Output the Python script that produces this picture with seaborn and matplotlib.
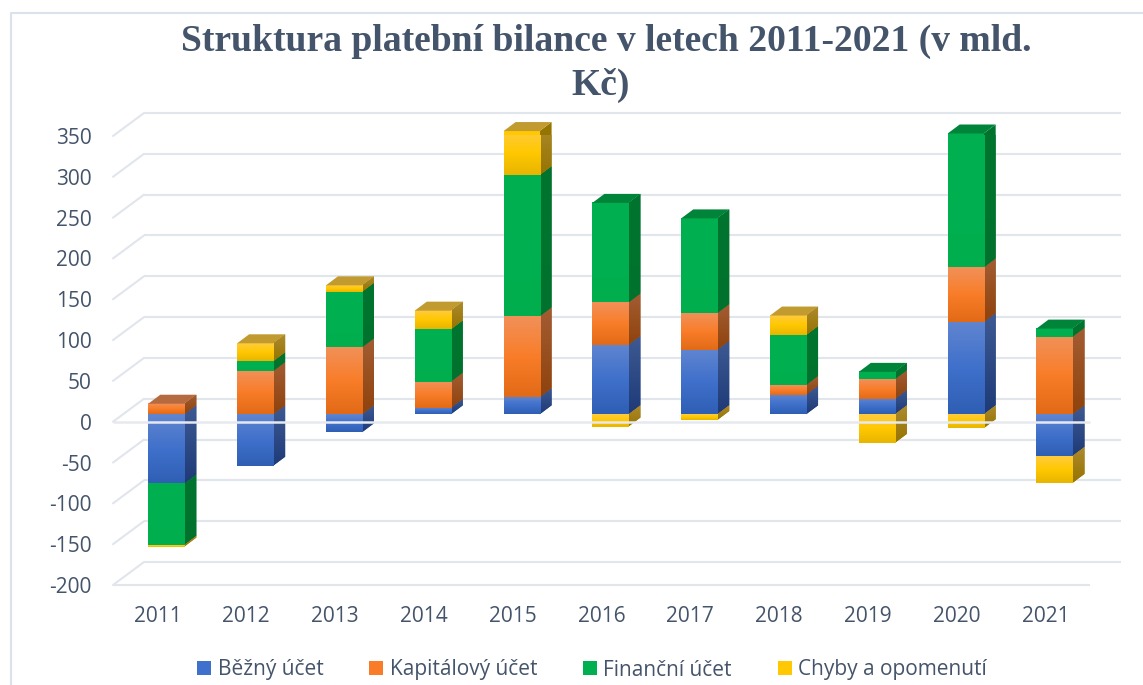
import numpy as np
import matplotlib
matplotlib.use("Agg")
import matplotlib.pyplot as plt
import matplotlib.transforms as mtransforms
from matplotlib.colors import LinearSegmentedColormap
from matplotlib.lines import Line2D
from matplotlib.patches import Patch, Polygon

import seaborn as sns

sns.set_style("white")
plt.rcParams["font.family"] = ["Open Sans", "DejaVu Sans"]
plt.rcParams["axes.unicode_minus"] = False

years = ["2011", "2012", "2013", "2014", "2015", "2016", "2017", "2018", "2019", "2020", "2021"]
bezny = [-85, -63, -22, 8, 21, 85, 79, 24, 19, 113, -51]
kapitalovy = [13, 53, 82, 32, 99, 52, 45, 12, 24, 67, 95]
financni = [-75, 12, 68, 64, 173, 122, 116, 61, 9, 164, 10]
chyby = [-2, 22, 8, 23, 54, -15, -7, 24, -35, -17, -33]

series_names = ["Běžný účet", "Kapitálový účet", "Finanční účet", "Chyby a opomenutí"]
y_ticks = [-200, -150, -100, -50, 0, 50, 100, 150, 200, 250, 300, 350]

text_color = "#44546A"
grid_color = "#E1E5EC"

# front face top/mid/bottom, side face top/bottom, lid
styles = [
    (["#6085D0", "#3F70CB", "#2F5FB4"], ["#3D5A94", "#1E3B78"], "#3A5A9E"),
    (["#F19058", "#F97D29", "#E26A16"], ["#A35D33", "#8F430D"], "#B56A40"),
    (["#00B050", "#00B050", "#00AE4E"], ["#00752F", "#00722D"], "#00843A"),
    (["#FFCB3E", "#FFC800", "#E8B500"], ["#AD8A2E", "#967400"], "#C19A30"),
]

PX_CAT = 88.8
PX_VAL = 0.8164
wall_dx, wall_dy = 31 / PX_CAT, 23 / PX_VAL
bar_dx, bar_dy = 12 / PX_CAT, 9 / PX_VAL
bar_width = 36 / PX_CAT


def gradient(ax, colors, extent, clip, trans, zorder):
    cmap = LinearSegmentedColormap.from_list("face", colors)
    img = ax.imshow(np.linspace(0, 1, 64).reshape(-1, 1), cmap=cmap, extent=extent,
                    aspect="auto", origin="upper", zorder=zorder, transform=trans)
    img.set_clip_path(clip)
    img.set_clip_box(None)


fig = plt.figure(figsize=(11.43, 6.85), dpi=100)
ax = fig.add_axes([113 / 1143, 100 / 685, 977 / 1143, 449 / 685])

# bars sit a little behind the front edge of the floor
bar_tr = mtransforms.offset_copy(ax.transData, fig=fig, x=8.9, y=7.4, units="dots")

pos_stack = np.zeros(len(years))
neg_stack = np.zeros(len(years))
lid_color = [None] * len(years)

for i, vals in enumerate([bezny, kapitalovy, financni, chyby]):
    vals = np.array(vals, dtype=float)
    bottoms = np.where(vals >= 0, pos_stack, neg_stack)
    n_before = len(ax.patches)
    sns.barplot(x=years, y=vals, bottom=bottoms, color=styles[i][0][1], width=bar_width,
                saturation=1, linewidth=0, transform=bar_tr, zorder=3, ax=ax)
    front, side, lid = styles[i]
    for k, bar in enumerate(ax.patches[n_before:]):
        bar.set_clip_on(False)
        left, right = bar.get_x(), bar.get_x() + bar.get_width()
        y0, y1 = sorted([bottoms[k], bottoms[k] + vals[k]])
        gradient(ax, front, (left, right, y0, y1), bar, bar_tr, 3)
        face = Polygon([(right, y0), (right + bar_dx, y0 + bar_dy),
                        (right + bar_dx, y1 + bar_dy), (right, y1)],
                       closed=True, facecolor=side[1], linewidth=0, transform=bar_tr,
                       zorder=2, clip_on=False)
        ax.add_patch(face)
        gradient(ax, side, (right, right + bar_dx, y0, y1 + bar_dy), face, bar_tr, 2)
    pos_stack = pos_stack + np.where(vals >= 0, vals, 0)
    neg_stack = neg_stack + np.where(vals < 0, vals, 0)
    for k in range(len(years)):
        if vals[k] > 0:
            lid_color[k] = lid

# lid only on the top segment of each stack
for k, top in enumerate(pos_stack):
    left = k - bar_width / 2
    right = k + bar_width / 2
    ax.add_patch(Polygon([(left, top), (right, top), (right + bar_dx, top + bar_dy),
                          (left + bar_dx, top + bar_dy)], closed=True, clip_on=False,
                         facecolor=lid_color[k], linewidth=0, transform=bar_tr, zorder=3))

# back wall, left wall and floor lines
ax.hlines(np.array(y_ticks) + wall_dy, -0.5 + wall_dx, 10.5 + wall_dx, color=grid_color,
          linewidth=1.5, clip_on=False, zorder=1)
for tick in y_ticks:
    ax.plot([-0.5, -0.5 + wall_dx], [tick, tick + wall_dy], color=grid_color, linewidth=1.5,
            clip_on=False, zorder=1)
ax.hlines(-200, -0.5, 10.5, color=grid_color, linewidth=1.5, clip_on=False, zorder=1)
ax.hlines(0, -0.5, 10.5, color="#E6E9EF", linewidth=1.8, clip_on=False, zorder=6)

ax.set_xlim(-0.5, 10.5)
ax.set_ylim(-200, 350)
ax.set_yticks(y_ticks)
ax.tick_params(axis="y", length=0, pad=15.5, labelsize=15, labelcolor=text_color)
ax.tick_params(axis="x", length=0, pad=15, labelsize=15, labelcolor=text_color)
ax.set_xlabel("")
sns.despine(ax=ax, left=True, bottom=True)

fig.text(606 / 1143, 1 - 41 / 685, "Struktura platební bilance v letech 2011-2021 (v mld.",
         family="Liberation Serif", weight="bold", fontsize=27.1, color=text_color,
         ha="center", va="center")
fig.text(601 / 1143, 1 - 85 / 685, "Kč)", family="Liberation Serif", weight="bold",
         fontsize=27.1, color=text_color, ha="center", va="center")

handles = [Patch(facecolor=s[0][1], linewidth=0) for s in styles]
fig.legend(handles, series_names, loc="center", bbox_to_anchor=(592 / 1143, 1 - 670 / 685),
           ncol=4, frameon=False, fontsize=15, labelcolor=text_color, handlelength=0.68,
           handleheight=0.68, handletextpad=0.3, columnspacing=2.2, borderpad=0)

# chart frame, only the left and top edges are in the crop
frame_x = 11 / 1143
frame_y = 1 - 13 / 685
fig.add_artist(Line2D([frame_x, frame_x, 1], [0, frame_y, frame_y], color="#DCE2EC", linewidth=1.5))

fig.savefig("out.png", dpi=100)
